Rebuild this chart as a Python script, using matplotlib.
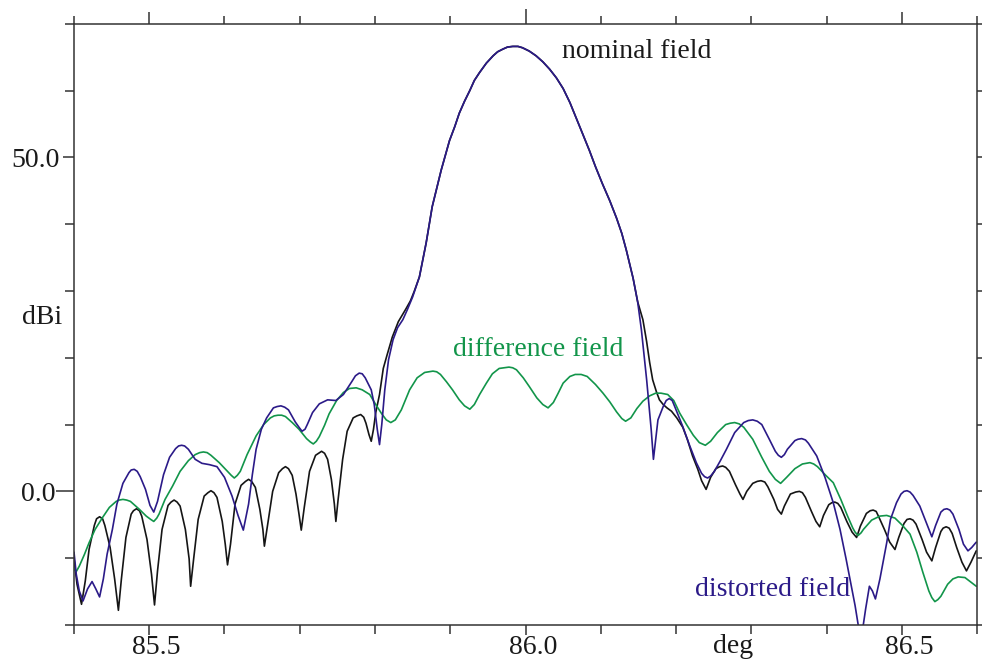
import matplotlib
matplotlib.use("Agg")
import matplotlib.pyplot as plt
from matplotlib.transforms import ScaledTranslation, blended_transform_factory

# ---------------------------------------------------------------- data
# main lobe, common to the nominal and the distorted pattern
lobe_deg = [85.859, 85.868, 85.876, 85.888, 85.899, 85.906, 85.912, 85.919,
            85.926, 85.932, 85.939, 85.948, 85.957, 85.963, 85.970, 85.976,
            85.983, 85.990, 85.996, 86.005, 86.014, 86.023, 86.032, 86.041,
            86.050, 86.059, 86.067, 86.076, 86.085, 86.093, 86.102, 86.112,
            86.121, 86.128, 86.134, 86.143, 86.149]
lobe_dbi = [32.1, 37.2, 42.6, 48.1, 52.5, 54.6, 56.6, 58.4,
            60.0, 61.5, 62.7, 64.1, 65.2, 65.8, 66.2, 66.5,
            66.6, 66.6, 66.4, 65.9, 65.2, 64.3, 63.2, 61.9,
            60.3, 58.2, 56.0, 53.5, 51.0, 48.6, 46.1, 43.5,
            40.9, 38.6, 36.1, 31.9, 28.4]

# nominal field, left side lobes
nominal_left_deg = [85.400, 85.404, 85.410, 85.415, 85.420, 85.427, 85.430, 85.434,
                    85.438, 85.441, 85.448, 85.454, 85.459, 85.463, 85.469, 85.476,
                    85.479, 85.483, 85.487, 85.490, 85.497, 85.503, 85.507, 85.511,
                    85.517, 85.525, 85.529, 85.533, 85.537, 85.541, 85.548, 85.553,
                    85.555, 85.559, 85.565, 85.573, 85.578, 85.582, 85.586, 85.590,
                    85.597, 85.601, 85.604, 85.608, 85.614, 85.622, 85.628, 85.632,
                    85.636, 85.641, 85.647, 85.651, 85.653, 85.657, 85.664, 85.672,
                    85.677, 85.681, 85.685, 85.690, 85.695, 85.699, 85.702, 85.706,
                    85.713, 85.721, 85.725, 85.729, 85.733, 85.737, 85.742, 85.746,
                    85.748, 85.751, 85.757, 85.763, 85.771, 85.776, 85.781, 85.785,
                    85.788, 85.792, 85.795, 85.798, 85.801, 85.806, 85.811, 85.816,
                    85.823, 85.831, 85.841, 85.847, 85.852]
nominal_left_dbi = [-10.1, -13.9, -16.9, -13.4, -8.7, -5.1, -4.1, -3.8,
                    -4.1, -5.1, -8.4, -13.1, -17.8, -13.1, -6.9, -3.4,
                    -2.9, -2.6, -2.9, -3.7, -7.2, -12.4, -17.0, -11.9,
                    -5.7, -2.1, -1.6, -1.3, -1.6, -2.2, -5.7, -10.1,
                    -14.2, -10.1, -4.2, -0.7, -0.2, 0.1, -0.2, -0.9,
                    -4.5, -7.9, -11.0, -7.9, -1.9, 0.9, 1.5, 1.8,
                    1.5, 0.6, -2.7, -5.7, -8.2, -5.2, 0.0, 2.8,
                    3.4, 3.7, 3.4, 2.4, -0.4, -3.4, -5.8, -2.4,
                    3.0, 5.4, 5.7, 6.0, 5.7, 4.8, 1.8, -1.9,
                    -4.5, -1.2, 4.8, 9.0, 11.0, 11.3, 11.5, 11.1,
                    10.2, 8.5, 7.5, 9.3, 11.8, 14.5, 18.4, 20.4,
                    23.1, 25.4, 27.3, 28.5, 29.9]

# nominal field, right side lobes
nominal_right_deg = [86.156, 86.161, 86.165, 86.169, 86.174, 86.178, 86.183, 86.188,
                     86.194, 86.201, 86.209, 86.215, 86.222, 86.229, 86.234, 86.240,
                     86.246, 86.253, 86.258, 86.262, 86.266, 86.271, 86.279, 86.285,
                     86.289, 86.294, 86.302, 86.308, 86.313, 86.318, 86.322, 86.330,
                     86.335, 86.340, 86.344, 86.352, 86.359, 86.364, 86.368, 86.372,
                     86.380, 86.386, 86.391, 86.396, 86.403, 86.407, 86.411, 86.415,
                     86.419, 86.427, 86.434, 86.440, 86.445, 86.453, 86.458, 86.462,
                     86.466, 86.469, 86.477, 86.484, 86.491, 86.496, 86.503, 86.507,
                     86.511, 86.515, 86.519, 86.527, 86.533, 86.540, 86.545, 86.552,
                     86.555, 86.559, 86.563, 86.567, 86.573, 86.580, 86.586, 86.592,
                     86.599]
nominal_right_dbi = [25.7, 22.4, 19.3, 16.7, 14.9, 13.7, 13.0, 12.5,
                     12.0, 11.0, 9.6, 7.8, 5.3, 3.3, 1.6, 0.3,
                     2.1, 3.4, 3.7, 3.8, 3.6, 3.0, 1.0, -0.4,
                     -1.2, 0.0, 1.2, 1.5, 1.6, 1.4, 0.7, -1.2,
                     -2.7, -3.4, -2.2, -0.4, -0.1, 0.0, -0.2, -0.9,
                     -3.0, -4.5, -5.3, -3.6, -2.0, -1.7, -1.6, -1.8,
                     -2.4, -4.5, -6.1, -6.9, -5.2, -3.3, -2.9, -2.8,
                     -3.0, -3.7, -5.7, -7.6, -8.7, -6.9, -4.8, -4.2,
                     -4.1, -4.3, -4.9, -7.2, -9.1, -10.4, -8.4, -6.0,
                     -5.5, -5.3, -5.5, -6.3, -8.4, -10.6, -11.9, -10.6,
                     -8.9]

# distorted field, left side lobes
distorted_left_deg = [85.400, 85.403, 85.407, 85.412, 85.418, 85.424, 85.429, 85.434,
                      85.439, 85.444, 85.451, 85.457, 85.465, 85.473, 85.476, 85.480,
                      85.484, 85.488, 85.495, 85.501, 85.506, 85.511, 85.519, 85.527,
                      85.535, 85.539, 85.543, 85.547, 85.552, 85.561, 85.570, 85.580,
                      85.590, 85.600, 85.610, 85.618, 85.625, 85.632, 85.637, 85.642,
                      85.649, 85.656, 85.665, 85.670, 85.675, 85.680, 85.685, 85.694,
                      85.699, 85.703, 85.707, 85.710, 85.717, 85.726, 85.737, 85.748,
                      85.758, 85.769, 85.774, 85.779, 85.783, 85.787, 85.795, 85.799,
                      85.803, 85.806, 85.809, 85.813, 85.818, 85.824, 85.830, 85.837,
                      85.843, 85.850]
distorted_left_dbi = [-9.1, -12.4, -14.9, -16.4, -14.6, -13.5, -14.6, -15.8,
                      -13.1, -9.4, -5.7, -1.9, 1.2, 2.8, 3.2, 3.3,
                      3.0, 2.2, 0.3, -2.1, -3.1, -1.5, 2.5, 5.1,
                      6.4, 6.8, 6.9, 6.8, 6.3, 4.8, 4.2, 4.0,
                      3.7, 2.1, -0.7, -3.6, -5.8, -1.9, 2.5, 6.3,
                      9.3, 11.0, 12.5, 12.7, 12.8, 12.6, 12.2, 10.4,
                      9.6, 9.0, 9.3, 10.0, 11.8, 13.1, 13.7, 13.6,
                      14.5, 16.4, 17.3, 17.7, 17.6, 17.0, 15.2, 13.0,
                      9.3, 7.0, 10.0, 15.2, 19.7, 22.7, 24.5, 25.7,
                      27.2, 29.1]

# distorted field, right side lobes
distorted_right_deg = [86.154, 86.161, 86.167, 86.170, 86.173, 86.176, 86.183, 86.187,
                       86.191, 86.195, 86.199, 86.209, 86.218, 86.227, 86.234, 86.238,
                       86.242, 86.246, 86.251, 86.259, 86.267, 86.278, 86.290, 86.296,
                       86.302, 86.308, 86.314, 86.324, 86.332, 86.336, 86.340, 86.344,
                       86.348, 86.358, 86.362, 86.367, 86.372, 86.376, 86.387, 86.398,
                       86.409, 86.418, 86.426, 86.432, 86.438, 86.445, 86.449, 86.452,
                       86.457, 86.461, 86.465, 86.471, 86.480, 86.485, 86.493, 86.499,
                       86.503, 86.507, 86.511, 86.515, 86.524, 86.532, 86.540, 86.545,
                       86.552, 86.556, 86.560, 86.564, 86.568, 86.576, 86.582, 86.588,
                       86.593, 86.599]
distorted_right_dbi = [24.2, 16.7, 9.3, 4.8, 7.8, 10.7, 12.7, 13.6,
                       13.9, 13.6, 12.5, 9.7, 6.9, 4.3, 2.7, 2.2,
                       2.0, 2.3, 3.0, 4.6, 6.3, 8.8, 10.3, 10.6,
                       10.7, 10.5, 10.0, 7.8, 6.0, 5.4, 5.1, 5.5,
                       6.3, 7.6, 7.8, 7.9, 7.7, 7.2, 5.3, 2.1,
                       -1.7, -5.7, -10.1, -13.6, -17.1, -22.0, -19.9, -17.6,
                       -14.2, -14.9, -16.1, -13.1, -7.7, -4.2, -1.7, -0.4,
                       0.0, 0.1, -0.1, -0.6, -2.2, -4.5, -6.8, -5.1,
                       -3.1, -2.7, -2.6, -2.8, -3.4, -5.7, -7.9, -8.9,
                       -8.4, -7.6]

# difference field
difference_deg = [85.400, 85.403, 85.407, 85.414, 85.420, 85.428, 85.438, 85.447,
                  85.456, 85.460, 85.465, 85.470, 85.475, 85.487, 85.496, 85.502,
                  85.506, 85.510, 85.513, 85.521, 85.531, 85.541, 85.552, 85.561,
                  85.567, 85.572, 85.577, 85.582, 85.593, 85.604, 85.609, 85.613,
                  85.617, 85.621, 85.630, 85.642, 85.652, 85.661, 85.666, 85.671,
                  85.676, 85.681, 85.690, 85.699, 85.709, 85.714, 85.718, 85.722,
                  85.726, 85.733, 85.739, 85.749, 85.758, 85.766, 85.775, 85.783,
                  85.793, 85.801, 85.809, 85.815, 85.821, 85.827, 85.835, 85.846,
                  85.856, 85.866, 85.872, 85.877, 85.882, 85.887, 85.895, 85.903,
                  85.912, 85.919, 85.926, 85.932, 85.939, 85.948, 85.956, 85.965,
                  85.971, 85.978, 85.983, 85.988, 85.997, 86.005, 86.015, 86.023,
                  86.030, 86.037, 86.043, 86.050, 86.059, 86.066, 86.074, 86.082,
                  86.093, 86.103, 86.112, 86.121, 86.128, 86.133, 86.140, 86.148,
                  86.156, 86.165, 86.173, 86.180, 86.189, 86.197, 86.205, 86.214,
                  86.223, 86.231, 86.239, 86.246, 86.255, 86.266, 86.272, 86.278,
                  86.284, 86.290, 86.302, 86.314, 86.324, 86.332, 86.339, 86.347,
                  86.358, 86.368, 86.378, 86.383, 86.388, 86.399, 86.409, 86.419,
                  86.428, 86.435, 86.438, 86.442, 86.446, 86.449, 86.460, 86.471,
                  86.480, 86.491, 86.501, 86.511, 86.520, 86.528, 86.536, 86.540,
                  86.544, 86.548, 86.552, 86.561, 86.568, 86.575, 86.584, 86.592,
                  86.599]
difference_dbi = [-11.6, -12.0, -11.2, -9.4, -7.7, -5.7, -3.9, -2.4,
                  -1.5, -1.3, -1.2, -1.3, -1.5, -2.7, -3.7, -4.2,
                  -4.5, -4.0, -3.4, -1.2, 0.8, 3.0, 4.6, 5.5,
                  5.8, 5.9, 5.8, 5.4, 4.3, 3.0, 2.4, 2.0,
                  2.4, 3.0, 5.5, 8.3, 10.0, 11.0, 11.3, 11.4,
                  11.4, 11.2, 10.3, 9.3, 7.9, 7.4, 7.1, 7.5,
                  8.2, 9.9, 11.6, 13.6, 14.8, 15.4, 15.5, 15.2,
                  14.5, 13.0, 11.6, 10.7, 10.3, 10.7, 12.2, 15.2,
                  17.0, 17.8, 17.9, 18.0, 17.9, 17.5, 16.4, 15.2,
                  13.7, 12.8, 12.3, 13.0, 14.5, 16.2, 17.6, 18.4,
                  18.5, 18.6, 18.5, 18.2, 17.0, 15.7, 14.0, 13.0,
                  12.5, 13.3, 14.6, 16.2, 17.2, 17.5, 17.5, 17.2,
                  16.0, 14.7, 13.4, 11.9, 10.9, 10.5, 11.0, 12.4,
                  13.5, 14.3, 14.7, 14.7, 14.5, 13.6, 11.7, 10.0,
                  8.4, 7.3, 6.9, 7.5, 8.8, 10.0, 10.2, 10.3,
                  10.1, 9.6, 7.8, 5.1, 3.0, 1.8, 1.2, 2.1,
                  3.4, 4.1, 4.3, 4.1, 3.7, 2.4, 1.3, -1.2,
                  -3.7, -5.5, -6.1, -6.6, -6.2, -5.7, -4.3, -3.7,
                  -3.6, -4.0, -5.1, -6.4, -9.1, -12.1, -14.9, -15.9,
                  -16.5, -16.2, -15.7, -13.9, -13.1, -12.8, -12.9, -13.6,
                  -14.2]

x_major = [85.5, 86.0, 86.5]
x_major_labels = ["85.5", "86.0", "86.5"]
x_minor = [85.4, 85.6, 85.7, 85.8, 85.9, 86.1, 86.2, 86.3, 86.4, 86.6]
y_major = [0, 50]
y_major_labels = ["0.0", "50.0"]
y_minor = [-20, -10, 10, 20, 30, 40, 60, 70]

# ---------------------------------------------------------------- style
plt.rcParams["font.family"] = ["Liberation Serif", "DejaVu Serif"]
FS = 20
AXIS_COLOR = "#333333"
C_NOMINAL = "#151515"
C_DISTORTED = "#2b1a88"
C_DIFFERENCE = "#12954a"

fig = plt.figure(figsize=(9.82, 6.63), dpi=100)
ax = fig.add_axes([74 / 982, 38 / 663, 903 / 982, 601.3 / 663])

nominal_deg = nominal_left_deg + lobe_deg + nominal_right_deg
nominal_dbi = nominal_left_dbi + lobe_dbi + nominal_right_dbi
distorted_deg = distorted_left_deg + lobe_deg + distorted_right_deg
distorted_dbi = distorted_left_dbi + lobe_dbi + distorted_right_dbi

lw = 1.2
style = dict(lw=lw, solid_joinstyle="round", solid_capstyle="round")
ax.plot(nominal_deg, nominal_dbi, color=C_NOMINAL, **style)
ax.plot(difference_deg, difference_dbi, color=C_DIFFERENCE, **style)
ax.plot(distorted_deg, distorted_dbi, color=C_DISTORTED, **style)

ax.set_xlim(85.4, 86.6)
ax.set_ylim(-20, 70)

for s in ax.spines.values():
    s.set_color(AXIS_COLOR)
    s.set_linewidth(1.1)

ax.set_xticks(x_major)
ax.set_xticklabels(x_major_labels)
ax.set_xticks(x_minor, minor=True)
ax.set_yticks(y_major)
ax.set_yticklabels(y_major_labels)
ax.set_yticks(y_minor, minor=True)

ax.tick_params(which="both", direction="out", top=True, right=True,
               color=AXIS_COLOR, width=1.1, labelsize=FS, labelcolor="#1a1a1a")
ax.tick_params(axis="x", which="major", length=7.0, pad=0.5)
ax.tick_params(axis="x", which="minor", length=6.2)
ax.tick_params(axis="y", which="major", length=7.9, pad=2.5)
ax.tick_params(axis="y", which="minor", length=6.2)

# longer marks on the upper edge at the labelled angles
for t, size in zip(ax.xaxis.get_major_ticks(), [8.4, 11.0, 8.4]):
    t.tick2line.set_markersize(size)
for t in ax.xaxis.get_minor_ticks():
    t.tick2line.set_markersize(5.8)
ytk = ax.yaxis.get_major_ticks()
ytk[0].tick1line.set_markersize(13.0)

shift = ScaledTranslation(7.5 / 100, 0, fig.dpi_scale_trans)
for lab in ax.get_xticklabels():
    lab.set_transform(lab.get_transform() + shift)
ylabs = ax.get_yticklabels()
ylabs[0].set_transform(ylabs[0].get_transform() + ScaledTranslation(-4 / 100, 0, fig.dpi_scale_trans))

# axis captions
fig.text(22 / 982, (663 - 324) / 663, "dBi", fontsize=FS, color="#1a1a1a",
         ha="left", va="baseline")
xb = blended_transform_factory(ax.transData, fig.transFigure)
ax.text(86.276, (663 - 653) / 663, "deg", transform=xb, fontsize=FS,
        color="#1a1a1a", ha="center", va="baseline", clip_on=False)

# curve captions
ax.text(86.048, 64.8, "nominal field", fontsize=FS, color="#1a1a1a",
        ha="left", va="baseline")
ax.text(85.903, 20.2, "difference field", fontsize=FS, color=C_DIFFERENCE,
        ha="left", va="baseline")
ax.text(86.225, -15.6, "distorted field", fontsize=FS, color=C_DISTORTED,
        ha="left", va="baseline")

fig.savefig("out.png", dpi=100)
